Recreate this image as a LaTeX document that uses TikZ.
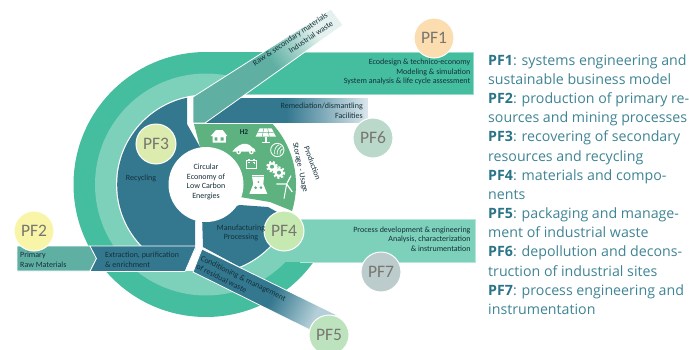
\documentclass[tikz,border=0pt]{standalone}
\usepackage{fontspec}
\setmainfont{Carlito}
\newfontfamily\sidefont{Open Sans}
\definecolor{ringA}{HTML}{45BD9F}
\definecolor{ringB}{HTML}{7DD0BA}
\definecolor{deep}{HTML}{34788F}
\definecolor{leaf}{HTML}{5DB27F}
\definecolor{sage}{HTML}{5FB0A3}
\definecolor{ink}{HTML}{14303A}
\definecolor{sidetxt}{HTML}{3F8494}
\definecolor{sidebold}{HTML}{2A7487}
\definecolor{fadeA}{HTML}{E4F1EE}
\definecolor{fadeB}{HTML}{DCE7EC}
\definecolor{fadeC}{HTML}{B4CFD8}
\definecolor{cA}{HTML}{FBDDB0}
\definecolor{cB}{HTML}{F9F5A8}
\definecolor{cC}{HTML}{DCEBAE}
\definecolor{cD}{HTML}{C6E9B2}
\definecolor{cE}{HTML}{BCE3BE}
\definecolor{cF}{HTML}{BAD9CB}
\definecolor{cG}{HTML}{BCCBCB}
\definecolor{pftxt}{HTML}{77776F}
\pgfdeclarehorizontalshading{diagfade}{100bp}{color(0bp)=(sage); color(52bp)=(sage); color(72bp)=(fadeA); color(100bp)=(fadeA)}
\pgfdeclarehorizontalshading{remfade}{100bp}{color(0bp)=(deep); color(50bp)=(deep); color(75bp)=(fadeB); color(100bp)=(fadeB)}
\pgfdeclarehorizontalshading{wastefade}{100bp}{color(0bp)=(deep); color(54bp)=(deep); color(73bp)=(fadeC); color(100bp)=(fadeC)}
\tikzset{
  x=1pt,y=-1pt,
  pfc/.style={circle,draw=white,line width=1pt,minimum size=40pt,inner sep=0pt,text=pftxt,font=\fontsize{17.5}{17.5}\selectfont},
  lbl/.style={text=ink,font=\fontsize{8}{9.7}\selectfont,inner sep=0pt},
  ico/.style={fill=white,draw=none},
  icol/.style={draw=white,line width=0.9pt,fill=none},
}
\begin{document}
\begin{tikzpicture}
\useasboundingbox (0,0) rectangle (689,349);
\clip (0,0) rectangle (689,349);
\coordinate (c) at (206,184.5);
% outer ring + PF1 band
\begin{scope}
  \clip (0,0) rectangle (206,349) (206,0) rectangle (689,94) (206,262) rectangle (689,349);
  \fill[ringA] (c) circle (132.5);
\end{scope}
\fill[ringA] (206,52) rectangle (473,94);
\draw[ringA!55!white,line width=0.6pt] (300,52) -- (473,52) -- (473,94) -- (230,94);
% light ring + PF7 band
\begin{scope}
  \clip (0,0) rectangle (206,349) (206,0) rectangle (240,100) (206,219) rectangle (689,349);
  \fill[ringB] (c) circle (111);
\end{scope}
\fill[ringB] (280,219) rectangle (475,262);
\draw[ringB!55!white,line width=0.6pt] (300,219) -- (475,219) -- (475,262) -- (300,262);
% inner disc
\fill[white] (c) circle (90);
\fill[ringB] (172,271) rectangle (206,278);
% recycling sector
\begin{scope}
  \clip (c) circle (88.8);
  \fill[deep] (187,90) -- (187,124) -- (200,147) -- (206,184) -- (195,222) -- (195,250) -- (100,250) -- (100,90) -- cycle;
\end{scope}
% green sector
\begin{scope}
  \clip (c) circle (90);
  \fill[leaf] (194,124) -- (300,124) -- (300,215) -- (290,210) -- (270,202) -- (240,197) -- (206,184) -- (200,147) -- cycle;
\end{scope}
% manufacturing sector
\begin{scope}
  \clip (c) circle (88.8);
  \fill[deep] (202,215) -- (240,205) -- (268,207) -- (279,213) -- (292,230) -- (280,262) -- (242,268) -- (203,247) -- cycle;
\end{scope}
% remediation band
\shadedraw[shading=remfade,draw=white,line width=0.6pt] (205,97) rectangle (368,123);
% raw-material diagonal band
\shadedraw[shading=diagfade,shading angle=34,draw=white,line width=0.8pt]
  (193,97) -- (331,9) -- (343,25) -- (205,123) -- (193,123) -- cycle;
% conditioning diagonal band
\shadedraw[shading=wastefade,shading angle=-26,draw=white,line width=0.8pt]
  (202,249) -- (337,315) -- (310,330) -- (193,272) -- cycle;
% primary arrows
\fill[sage] (17,246) -- (90,246) -- (96.5,258.5) -- (90,271) -- (17,271) -- cycle;
\draw[white,line width=0.7pt] (17,246) -- (90,246) -- (96.5,258.5) -- (90,271) -- (17,271) -- cycle;
\fill[deep] (90,246) -- (196,246) -- (185,271.5) -- (90,271.5) -- (96.5,258.5) -- cycle;
\draw[white,line width=0.7pt] (90,246) -- (196,246) -- (185,271.5) -- (90,271.5) -- (96.5,258.5) -- cycle;
% centre
\fill[white] (c) circle (37.5);
% icons (coordinates of a 3x enlargement of the sector)
\begin{scope}[shift={(190,120)},x=0.3333pt,y=-0.3333pt]
  \fill[ico] (62,48) -- (78,30) -- (98,30) -- (112,48) -- (108,48) -- (108,68) -- (68,68) -- (68,48) -- cycle;
  \fill[leaf] (74,52) rectangle (82,62) (92,52) rectangle (101,62);
  \fill[ico] (209,25) -- (245,25) -- (258,50) -- (197,50) -- cycle;
  \draw[leaf,line width=0.5pt] (221,25) -- (217,50) (233,25) -- (238,50) (204,37) -- (251,37);
  \draw[white,line width=1.3pt] (228,50) -- (228,66) (215,68) -- (241,68);
  \fill[ico] (127,95) .. controls (130,85) and (140,84) .. (148,76) .. controls (160,68) and (178,70) .. (186,82) .. controls (192,84) and (197,88) .. (197,95) -- cycle;
  \fill[ico] (146,96) circle (7) (184,96) circle (7);
  \fill[leaf] (146,96) circle (3) (184,96) circle (3);
  \draw[icol] (262,90) circle (20);
  \draw[white,line width=0.7pt] (254,102) .. controls (252,88) and (258,78) .. (268,74) (262,104) .. controls (260,92) and (266,84) .. (274,78) (270,104) .. controls (268,96) and (272,90) .. (278,86);
  \draw[icol] (168,122) rectangle (200,145);
  \draw[white,line width=1.2pt] (173,119) -- (179,119) (189,119) -- (195,119);
  \draw[white,line width=0.6pt] (173,128) -- (179,128) (189,128) -- (195,128) (192,125) -- (192,131);
  \fill[ico] (246,140) circle (13) (267,158) circle (14);
  \draw[white,line width=2pt,dash pattern=on 2pt off 2pt] (246,140) circle (15) (267,158) circle (16);
  \fill[leaf] (246,140) circle (6) (267,158) circle (6);
  \fill[ico] (186,170) -- (222,170) -- (220,192) -- (232,222) -- (178,222) -- (190,192) -- cycle;
  \draw[icol] (186,165) -- (222,165);
  \fill[leaf] (205,186) circle (3.2) (197,203) circle (4.5) (213,203) circle (4.5);
  \fill[ico] (205,198) circle (2);
  \draw[white,line width=1pt] (282,236) -- (290,192);
  \draw[white,line width=1.2pt] (290,192) -- (303,167) (290,192) -- (259,192) (290,192) -- (307,216);
\end{scope}
% circles
\node[pfc,fill=cA] (pf1) at (434,38) {PF1};
\node[pfc,fill=cB] (pf2) at (34,231) {PF2};
\node[pfc,fill=cC] (pf3) at (156,144) {PF3};
\node[pfc,fill=cD] (pf4) at (284,231) {PF4};
\node[pfc,fill=cE] (pf5) at (329,335) {PF5};
\node[pfc,fill=cF] (pf6) at (373,138) {PF6};
\node[pfc,fill=cG] (pf7) at (381,272) {PF7};
% labels
\node[lbl,align=center] (core) at (206,182) {Circular\\Economy of\\Low Carbon\\Energies};
\node[lbl,align=right,anchor=east] (eco) at (470.5,72) {Ecodesign \& technico-economy\\Modeling \& simulation\\System analysis \& life cycle assessment};
\node[lbl,align=right,anchor=east] (rem) at (363,111) {Remediation/dismantling\\Facilities};
\node[lbl,align=right,anchor=east] (proc) at (470.7,239) {Process development \& engineering\\Analysis, characterization\\\& instrumentation};
\node[lbl,align=center] (manu) at (241,233) {Manufacturing\\Processing};
\node[lbl] (recy) at (141,178) {Recycling};
\node[lbl,align=left,anchor=west] (prim) at (20,259.5) {Primary\\Raw Materials};
\node[lbl,align=left,anchor=west] (extr) at (105,259.5) {Extraction, purification\\\& enrichment};
\node[lbl,align=right,anchor=east,rotate=34] (raw) at (329.5,18.5) {Raw \& secondary materials\\Industrial waste};
\node[lbl,align=left,anchor=west,rotate=-26] (cond) at (199,262) {Conditioning \& management\\of residual waste};
\node[lbl,rotate=-70] (prod) at (312.5,163) {Production};
\node[lbl,rotate=-78] (stor) at (300,167.5) {Storage - Usage};
\node[lbl,font=\fontsize{7.4}{9}\selectfont\bfseries] (htwo) at (244,132.5) {H2};
% side text
\node[anchor=west,align=left,inner sep=0pt,text=sidetxt,font=\sidefont\fontsize{14.2}{19.15}\selectfont] (side) at (488,184.5)
{\textbf{\textcolor{sidebold}{PF1}}: systems engineering and\\
sustainable business model\\
\textbf{\textcolor{sidebold}{PF2}}: production of primary re-\\
sources and mining processes\\
\textbf{\textcolor{sidebold}{PF3}}: recovering of secondary\\
resources and recycling\\
\textbf{\textcolor{sidebold}{PF4}}: materials and compo-\\
nents\\
\textbf{\textcolor{sidebold}{PF5}}: packaging and manage-\\
ment of industrial waste\\
\textbf{\textcolor{sidebold}{PF6}}: depollution and decons-\\
truction of industrial sites\\
\textbf{\textcolor{sidebold}{PF7}}: process engineering and\\
instrumentation};
\end{tikzpicture}
\end{document}
